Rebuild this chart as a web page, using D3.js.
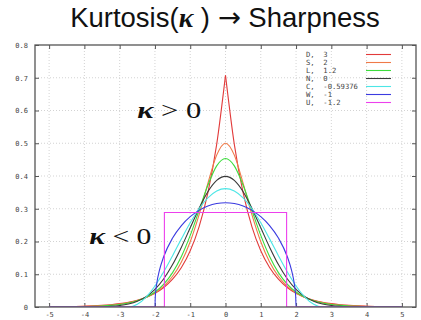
<!DOCTYPE html>
<html>
<head>
<meta charset="utf-8">
<script src="https://cdn.jsdelivr.net/npm/d3@7"></script>
<style>
  body { margin: 0; background: #fff; }
  svg { display: block; }
</style>
</head>
<body>
<svg id="chart" width="421" height="320"></svg>
<script>
// Tick positions and labels
const xTicks = [-5, -4, -3, -2, -1, 0, 1, 2, 3, 4, 5];
const xTickLabels = ["-5", "-4", "-3", "-2", "-1", "0", "1", "2", "3", "4", "5"];
const yTicks = [0, 0.1, 0.2, 0.3, 0.4, 0.5, 0.6, 0.7, 0.8];
const yTickLabels = ["0", "0.1", "0.2", "0.3", "0.4", "0.5", "0.6", "0.7", "0.8"];

// Shared abscissae for the smooth densities
const gridX = [-5, -4.75, -4.5, -4.25, -4, -3.75, -3.5, -3.25, -3, -2.75, -2.5, -2.25, -2, -1.75, -1.5, -1.25, -1, -0.75, -0.5, -0.25,
  0, 0.25, 0.5, 0.75, 1, 1.25, 1.5, 1.75, 2, 2.25, 2.5, 2.75, 3, 3.25, 3.5, 3.75, 4, 4.25, 4.5, 4.75, 5];

// Density values (unit variance), one array per distribution
const laplaceD = [0.0006, 0.0009, 0.0012, 0.0017, 0.0025, 0.0035, 0.0050, 0.0071, 0.0102, 0.0145, 0.0206, 0.0294, 0.0418, 0.0595, 0.0848, 0.1207, 0.1719, 0.2448, 0.3487, 0.4965,
  0.7071, 0.4965, 0.3487, 0.2448, 0.1719, 0.1207, 0.0848, 0.0595, 0.0418, 0.0294, 0.0206, 0.0145, 0.0102, 0.0071, 0.0050, 0.0035, 0.0025, 0.0017, 0.0012, 0.0009, 0.0006];
const secantS = [0.0004, 0.0006, 0.0009, 0.0013, 0.0019, 0.0028, 0.0041, 0.0061, 0.0090, 0.0133, 0.0197, 0.0292, 0.0431, 0.0637, 0.0939, 0.1377, 0.1993, 0.2813, 0.3775, 0.4638,
  0.5000, 0.4638, 0.3775, 0.2813, 0.1993, 0.1377, 0.0939, 0.0637, 0.0431, 0.0292, 0.0197, 0.0133, 0.0090, 0.0061, 0.0041, 0.0028, 0.0019, 0.0013, 0.0009, 0.0006, 0.0004];
const logisticL = [0.0002, 0.0003, 0.0005, 0.0008, 0.0013, 0.0020, 0.0032, 0.0050, 0.0078, 0.0122, 0.0191, 0.0296, 0.0457, 0.0699, 0.1051, 0.1543, 0.2186, 0.2947, 0.3716, 0.4309,
  0.4534, 0.4309, 0.3716, 0.2947, 0.2186, 0.1543, 0.1051, 0.0699, 0.0457, 0.0296, 0.0191, 0.0122, 0.0078, 0.0050, 0.0032, 0.0020, 0.0013, 0.0008, 0.0005, 0.0003, 0.0002];
const normalN = [0, 0, 0, 0.0001, 0.0001, 0.0004, 0.0009, 0.0020, 0.0044, 0.0091, 0.0175, 0.0317, 0.0540, 0.0863, 0.1295, 0.1826, 0.2420, 0.3011, 0.3521, 0.3867,
  0.3989, 0.3867, 0.3521, 0.3011, 0.2420, 0.1826, 0.1295, 0.0863, 0.0540, 0.0317, 0.0175, 0.0091, 0.0044, 0.0020, 0.0009, 0.0004, 0.0001, 0.0001, 0, 0, 0];
const cosineC = [0, 0, 0, 0, 0, 0, 0, 0, 0, 0, 0.0081, 0.0303, 0.0642, 0.1076, 0.1568, 0.2080, 0.2571, 0.3000, 0.3331, 0.3543,
  0.3615, 0.3543, 0.3331, 0.3000, 0.2571, 0.2080, 0.1568, 0.1076, 0.0642, 0.0303, 0.0081, 0, 0, 0, 0, 0, 0, 0, 0, 0, 0];

// Semicircle: its own abscissae, denser near the edges
const wignerX = [-5, -2, -1.99, -1.95, -1.875, -1.75, -1.5, -1.25, -1, -0.75, -0.5, -0.25, 0,
  0.25, 0.5, 0.75, 1, 1.25, 1.5, 1.75, 1.875, 1.95, 1.99, 2, 5];
const wignerW = [0, 0, 0.0318, 0.0707, 0.1108, 0.1541, 0.2105, 0.2485, 0.2757, 0.2951, 0.3082, 0.3158, 0.3183,
  0.3158, 0.3082, 0.2951, 0.2757, 0.2485, 0.2105, 0.1541, 0.1108, 0.0707, 0.0318, 0, 0];

// Uniform: a box
const uniformX = [-5, -1.7321, -1.7321, 1.7321, 1.7321, 5];
const uniformU = [0, 0, 0.2887, 0.2887, 0, 0];

const seriesNames = ["D", "S", "L", "N", "C", "W", "U"];
const seriesKurtosis = ["3", "2", "1.2", "0", "-0.59376", "-1", "-1.2"];
const seriesColors = ["#e23a3a", "#ef7a48", "#3cdc3c", "#3a3a3a", "#4ce6e6", "#3b3be0", "#ec40ec"];

const series = [
  { xs: gridX, ys: laplaceD, cusp: true, curve: d3.curveMonotoneX },
  { xs: gridX, ys: secantS, curve: d3.curveMonotoneX },
  { xs: gridX, ys: logisticL, curve: d3.curveMonotoneX },
  { xs: gridX, ys: normalN, curve: d3.curveMonotoneX },
  { xs: gridX, ys: cosineC, curve: d3.curveMonotoneX },
  { xs: wignerX, ys: wignerW, curve: d3.curveMonotoneX },
  { xs: uniformX, ys: uniformU, curve: d3.curveLinear }
];

const svg = d3.select("#chart");
const plotLeft = 35, plotRight = 416, plotTop = 45, plotBottom = 307;

const x = d3.scaleLinear().domain([-5.4, 5.4]).range([plotLeft, plotRight]);
const y = d3.scaleLinear().domain([0, 0.8]).range([plotBottom, plotTop]);

// Dotted grid
const grid = svg.append("g").attr("stroke", "#c8c8c8").attr("stroke-width", 0.8).attr("stroke-dasharray", "1,2");
grid.selectAll("line.gx").data(xTicks).join("line")
  .attr("x1", d => x(d)).attr("x2", d => x(d)).attr("y1", plotTop).attr("y2", plotBottom);
grid.selectAll("line.gy").data(yTicks.slice(1, -1)).join("line")
  .attr("x1", plotLeft).attr("x2", plotRight).attr("y1", d => y(d)).attr("y2", d => y(d));

// Axes with inward ticks, mirrored on top and right
const tickFont = "'DejaVu Sans Mono', monospace";
const axB = svg.append("g").attr("transform", `translate(0,${plotBottom})`)
  .call(d3.axisBottom(x).tickValues(xTicks).tickFormat((d, i) => xTickLabels[i]).tickSizeInner(-4).tickSizeOuter(0).tickPadding(5.5));
const axT = svg.append("g").attr("transform", `translate(0,${plotTop})`)
  .call(d3.axisTop(x).tickValues(xTicks).tickFormat("").tickSizeInner(-4).tickSizeOuter(0));
const axL = svg.append("g").attr("transform", `translate(${plotLeft},0)`)
  .call(d3.axisLeft(y).tickValues(yTicks).tickFormat((d, i) => yTickLabels[i]).tickSizeInner(-4).tickSizeOuter(0).tickPadding(7));
const axR = svg.append("g").attr("transform", `translate(${plotRight},0)`)
  .call(d3.axisRight(y).tickValues(yTicks).tickFormat("").tickSizeInner(-4).tickSizeOuter(0));
[axB, axT, axL, axR].forEach(g => {
  g.select(".domain").remove();
  g.selectAll(".tick line").attr("stroke", "#555").attr("stroke-width", 1);
  g.selectAll(".tick text").attr("font-family", tickFont).attr("font-size", 7).attr("fill", "#444");
});

// Curves
svg.append("clipPath").attr("id", "plot-clip")
  .append("rect").attr("x", plotLeft).attr("y", plotTop).attr("width", plotRight - plotLeft).attr("height", plotBottom - plotTop);
const plot = svg.append("g").attr("clip-path", "url(#plot-clip)");
series.forEach((s, i) => {
  const pts = s.xs.map((v, j) => [v, s.ys[j]]);
  const line = d3.line().x(d => x(d[0])).y(d => y(d[1])).curve(s.curve);
  let parts = [pts];
  if (s.cusp) {
    const k = s.ys.indexOf(d3.max(s.ys));
    parts = [pts.slice(0, k + 1), pts.slice(k)];
  }
  parts.forEach(p => plot.append("path")
    .attr("d", line(p)).attr("fill", "none")
    .attr("stroke", seriesColors[i]).attr("stroke-width", 1.1));
});

// Frame
svg.append("rect").attr("x", plotLeft).attr("y", plotTop).attr("width", plotRight - plotLeft).attr("height", plotBottom - plotTop)
  .attr("fill", "none").attr("stroke", "#555").attr("stroke-width", 1.3);

// Legend
const legend = svg.append("g");
seriesNames.forEach((n, i) => {
  const yy = 54.5 + i * 8;
  legend.append("text").attr("x", 306).attr("y", yy).attr("dy", "0.33em")
    .attr("font-family", tickFont).attr("font-size", 7.2).attr("fill", "#444")
    .attr("xml:space", "preserve").text(`${n},  ${seriesKurtosis[i]}`);
  legend.append("line").attr("x1", 366).attr("x2", 391).attr("y1", yy).attr("y2", yy)
    .attr("stroke", seriesColors[i]).attr("stroke-width", 1.1);
});

// Annotations: wide serif lettering
const serif = "'Liberation Serif', 'DejaVu Serif', serif";
function annotate(xv, yv, rel, width) {
  const t = svg.append("text").attr("x", x(xv)).attr("y", y(yv))
    .attr("font-family", serif).attr("font-size", 23).attr("fill", "#111")
    .attr("textLength", width).attr("lengthAdjust", "spacingAndGlyphs");
  t.append("tspan").attr("font-style", "italic").attr("font-weight", "bold").text("κ");
  t.append("tspan").text(" " + rel + " 0");
}
annotate(-2.5, 0.577, ">", 64);
annotate(-3.86, 0.192, "<", 62);

// Title
const title = svg.append("text").attr("x", 225).attr("y", 27).attr("text-anchor", "middle")
  .attr("font-family", "'Liberation Sans', Arial, sans-serif").attr("font-size", 27.5).attr("fill", "#111");
title.append("tspan").text("Kurtosis(");
title.append("tspan").attr("font-family", serif).attr("font-style", "italic").attr("font-weight", "bold").text("κ");
title.append("tspan").text(" ) ");
title.append("tspan").attr("font-family", "'DejaVu Sans', sans-serif").text("→");
title.append("tspan").text(" Sharpness");
</script>
</body>
</html>
